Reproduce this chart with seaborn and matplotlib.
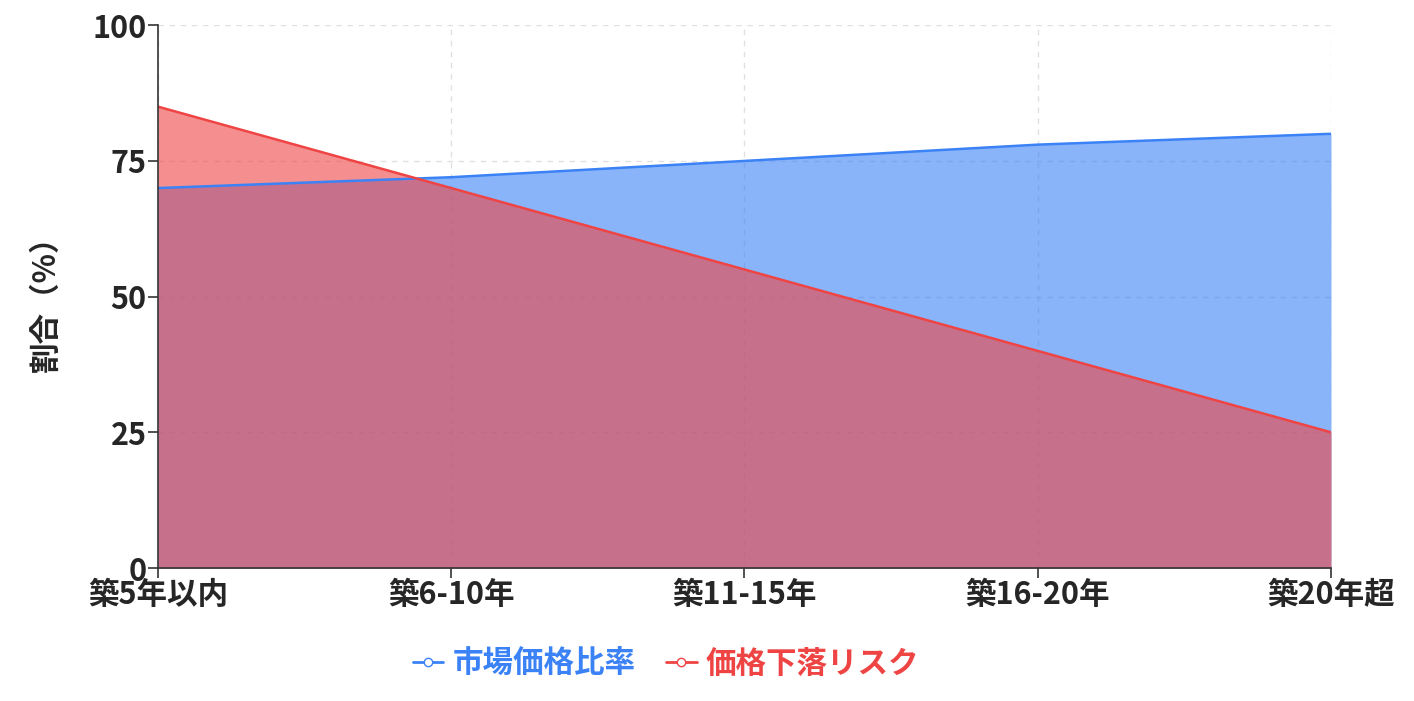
import matplotlib
matplotlib.use("Agg")
import matplotlib.pyplot as plt
import seaborn as sns
import pandas as pd
from matplotlib.lines import Line2D

categories = ["築5年以内", "築6-10年", "築11-15年", "築16-20年", "築20年超"]
market_ratio = [70, 72, 75, 78, 80]
price_risk = [85, 70, 55, 40, 25]
series_names = ["市場価格比率", "価格下落リスク"]
yticks = [0, 25, 50, 75, 100]

sns.set_theme(style="white")
plt.rcParams['font.family'] = ['Noto Sans CJK JP', 'DejaVu Sans']

blue = "#3b82f6"
red = "#ef4444"

fig = plt.figure(figsize=(14.14, 7.01), dpi=100)
ax = fig.add_axes([0.1117, 0.1897, 0.8296, 0.7743])
x = list(range(len(categories)))
df = pd.DataFrame({"x": x, "m": market_ratio, "r": price_risk})

ax.fill_between(df["x"], df["m"], color=blue, alpha=0.6, lw=0)
sns.lineplot(data=df, x="x", y="m", ax=ax, color=blue, lw=1.8)
ax.fill_between(df["x"], df["r"], color=red, alpha=0.6, lw=0)
sns.lineplot(data=df, x="x", y="r", ax=ax, color=red, lw=1.8)

ax.set_xlim(0, 4)
ax.set_ylim(0, 100)
ax.set_xticks(x)
ax.set_xticklabels(categories, fontsize=22, fontweight="bold")
ax.set_yticks(yticks)
ax.set_yticklabels([str(v) for v in yticks], fontsize=22, fontweight="bold")
ax.tick_params(axis="both", length=7, width=1.2, color="#333333", bottom=True, left=True, pad=1)
ax.grid(True, ls=(0, (4, 4)), color="#cccccc", lw=1, alpha=0.6)
for s in ["top", "right"]:
    ax.spines[s].set_visible(False)
for s in ["left", "bottom"]:
    ax.spines[s].set_color("#333333")
    ax.spines[s].set_linewidth(1.2)
    ax.spines[s].set_zorder(5)
ax.set_xlabel("")
ax.set_ylabel("割合（%）", fontsize=22, fontweight="bold", labelpad=22)

handles = [Line2D([], [], color=blue, marker="o", mfc="white", ms=6, lw=2),
           Line2D([], [], color=red, marker="o", mfc="white", ms=6, lw=2)]
leg = fig.legend(handles, series_names, loc="center", bbox_to_anchor=(0.471, 0.053),
                 ncol=2, frameon=False, handlelength=1.0, handletextpad=0.3,
                 columnspacing=1.0, prop={"weight": "bold", "size": 22})
for t, c in zip(leg.get_texts(), [blue, red]):
    t.set_color(c)

fig.savefig("out.png", dpi=100)
